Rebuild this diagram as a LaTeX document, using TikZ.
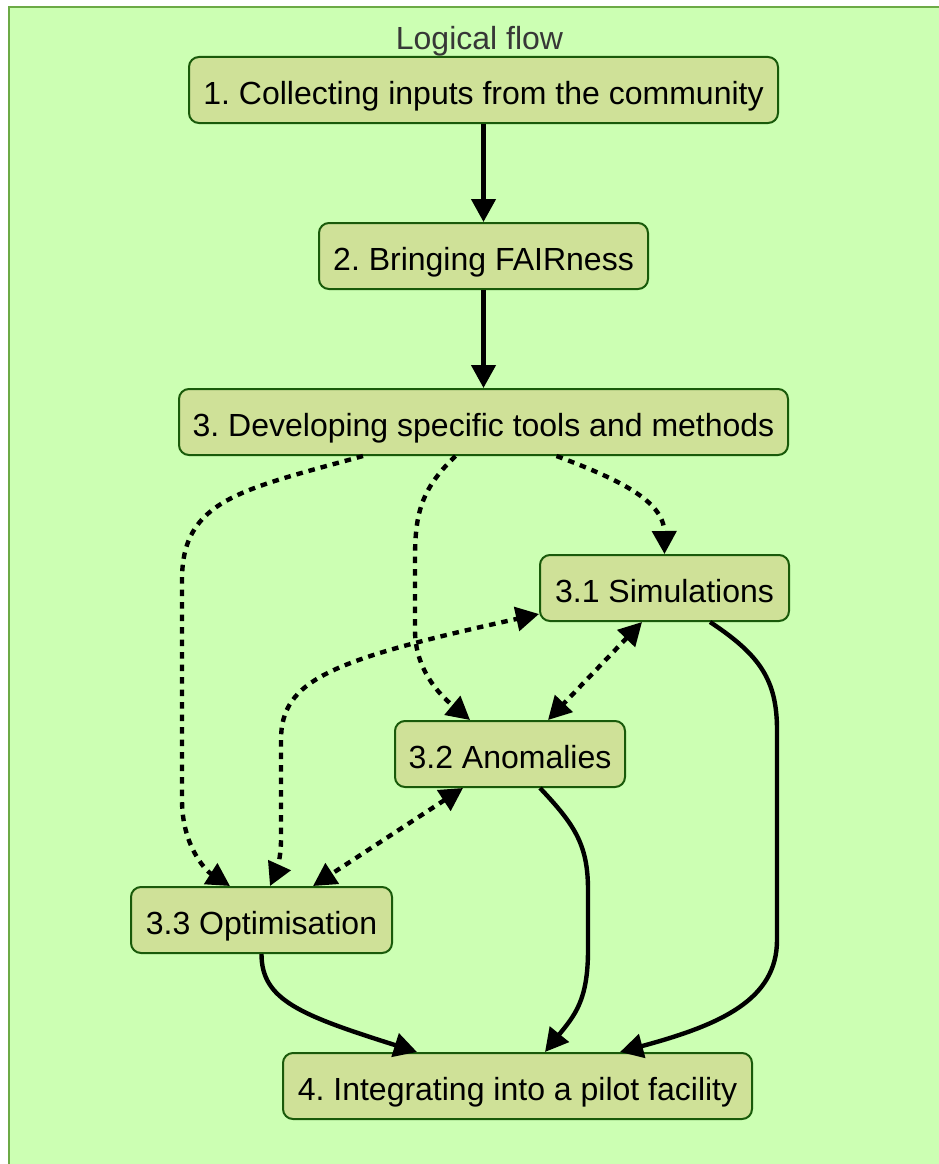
\documentclass[tikz,border=0pt]{standalone}
\usepackage{fontspec}
\setmainfont{Liberation Sans}
\usetikzlibrary{arrows.meta}
\frenchspacing

\definecolor{clusterfill}{RGB}{204,255,179}
\definecolor{clusterline}{RGB}{108,170,70}
\definecolor{boxfill}{RGB}{207,225,152}
\definecolor{boxline}{RGB}{25,90,10}
\definecolor{labelgray}{RGB}{55,55,55}

\tikzset{
  stagebox/.style={draw=boxline, fill=boxfill, line width=2pt, rounded corners=10pt,
    minimum height=66pt, inner xsep=0pt, inner ysep=0pt,
    text height=29pt, text depth=0pt, font=\fontsize{32}{38}\selectfont},
  flowline/.style={line width=4.4pt, ->},
  dotline/.style={line width=4.4pt, dash pattern=on 6.5pt off 6pt, ->},
  bothline/.style={line width=4.4pt, dash pattern=on 6.5pt off 6pt, <->},
}

\begin{document}
\begin{tikzpicture}[x=1pt, y=-1pt, >={Triangle[length=23pt,width=24pt]}]
  \useasboundingbox (0,0) rectangle (939,1164);
  \fill[white] (0,0) rectangle (939,1164);

  % cluster frame
  \draw[clusterline, fill=clusterfill, line width=2pt] (9,7) rectangle (960,1190);
  \node[anchor=base, text=labelgray, font=\fontsize{32}{38}\selectfont] (title) at (479.5,50) {Logical flow};

  % stages
  \node[stagebox, minimum width=589pt] (n1)  at (483.5,90)   {1. Collecting inputs from the community};
  \node[stagebox, minimum width=329pt] (n2)  at (483.5,256)  {2. Bringing FAIRness};
  \node[stagebox, minimum width=609pt] (n3)  at (483.5,422)  {3. Developing specific tools and methods};
  \node[stagebox, minimum width=249pt] (n31) at (664.5,588)  {3.1 Simulations};
  \node[stagebox, minimum width=230pt] (n32) at (510,754)    {3.2 Anomalies};
  \node[stagebox, minimum width=261pt] (n33) at (261.5,920)  {3.3 Optimisation};
  \node[stagebox, minimum width=469pt] (n4)  at (517.5,1086) {4. Integrating into a pilot facility};

  % main chain
  \draw[flowline] (n1.south) -- (n2.north);
  \draw[flowline] (n2.south) -- (n3.north);

  % tools and methods to the three sub-tasks
  \draw[dotline] ([xshift=73pt]n3.south) .. controls (615,478) and (664,500) .. (n31.north);
  \draw[dotline] ([xshift=-28pt]n3.south) .. controls (420,490) and (415,515) .. (415,560)
    -- (415,630) .. controls (415,670) and (440,695) .. ([xshift=-40pt]n32.north);
  \draw[dotline] ([xshift=-120.5pt]n3.south) .. controls (240,490) and (182,500) .. (182,580)
    -- (182,800) .. controls (182,845) and (205,870) .. ([xshift=-31.5pt]n33.north);

  % exchanges between sub-tasks
  \draw[bothline] ([xshift=8.5pt]n33.north) .. controls (275,875) and (281,860) .. (281,840)
    -- (281,740) .. controls (281,680) and (330,660) .. ([yshift=8pt]n31.south west);
  \draw[bothline] ([xshift=-22.5pt]n31.south) -- ([xshift=38pt]n32.north);
  \draw[bothline] ([xshift=-47pt]n32.south) -- ([xshift=51.5pt]n33.north);

  % sub-tasks into the pilot facility
  \draw[flowline] ([xshift=45.5pt]n31.south) .. controls (760,655) and (777,680) .. (777,730)
    -- (777,940) .. controls (777,1000) and (720,1025) .. ([xshift=102.5pt]n4.north);
  \draw[flowline] ([xshift=30pt]n32.south) .. controls (575,825) and (588,845) .. (588,890)
    -- (588,950) .. controls (588,1000) and (575,1015) .. ([xshift=27.5pt]n4.north);
  \draw[flowline] (n33.south) .. controls (261.5,1000) and (300,1015) .. ([xshift=-100.5pt]n4.north);
\end{tikzpicture}
\end{document}
